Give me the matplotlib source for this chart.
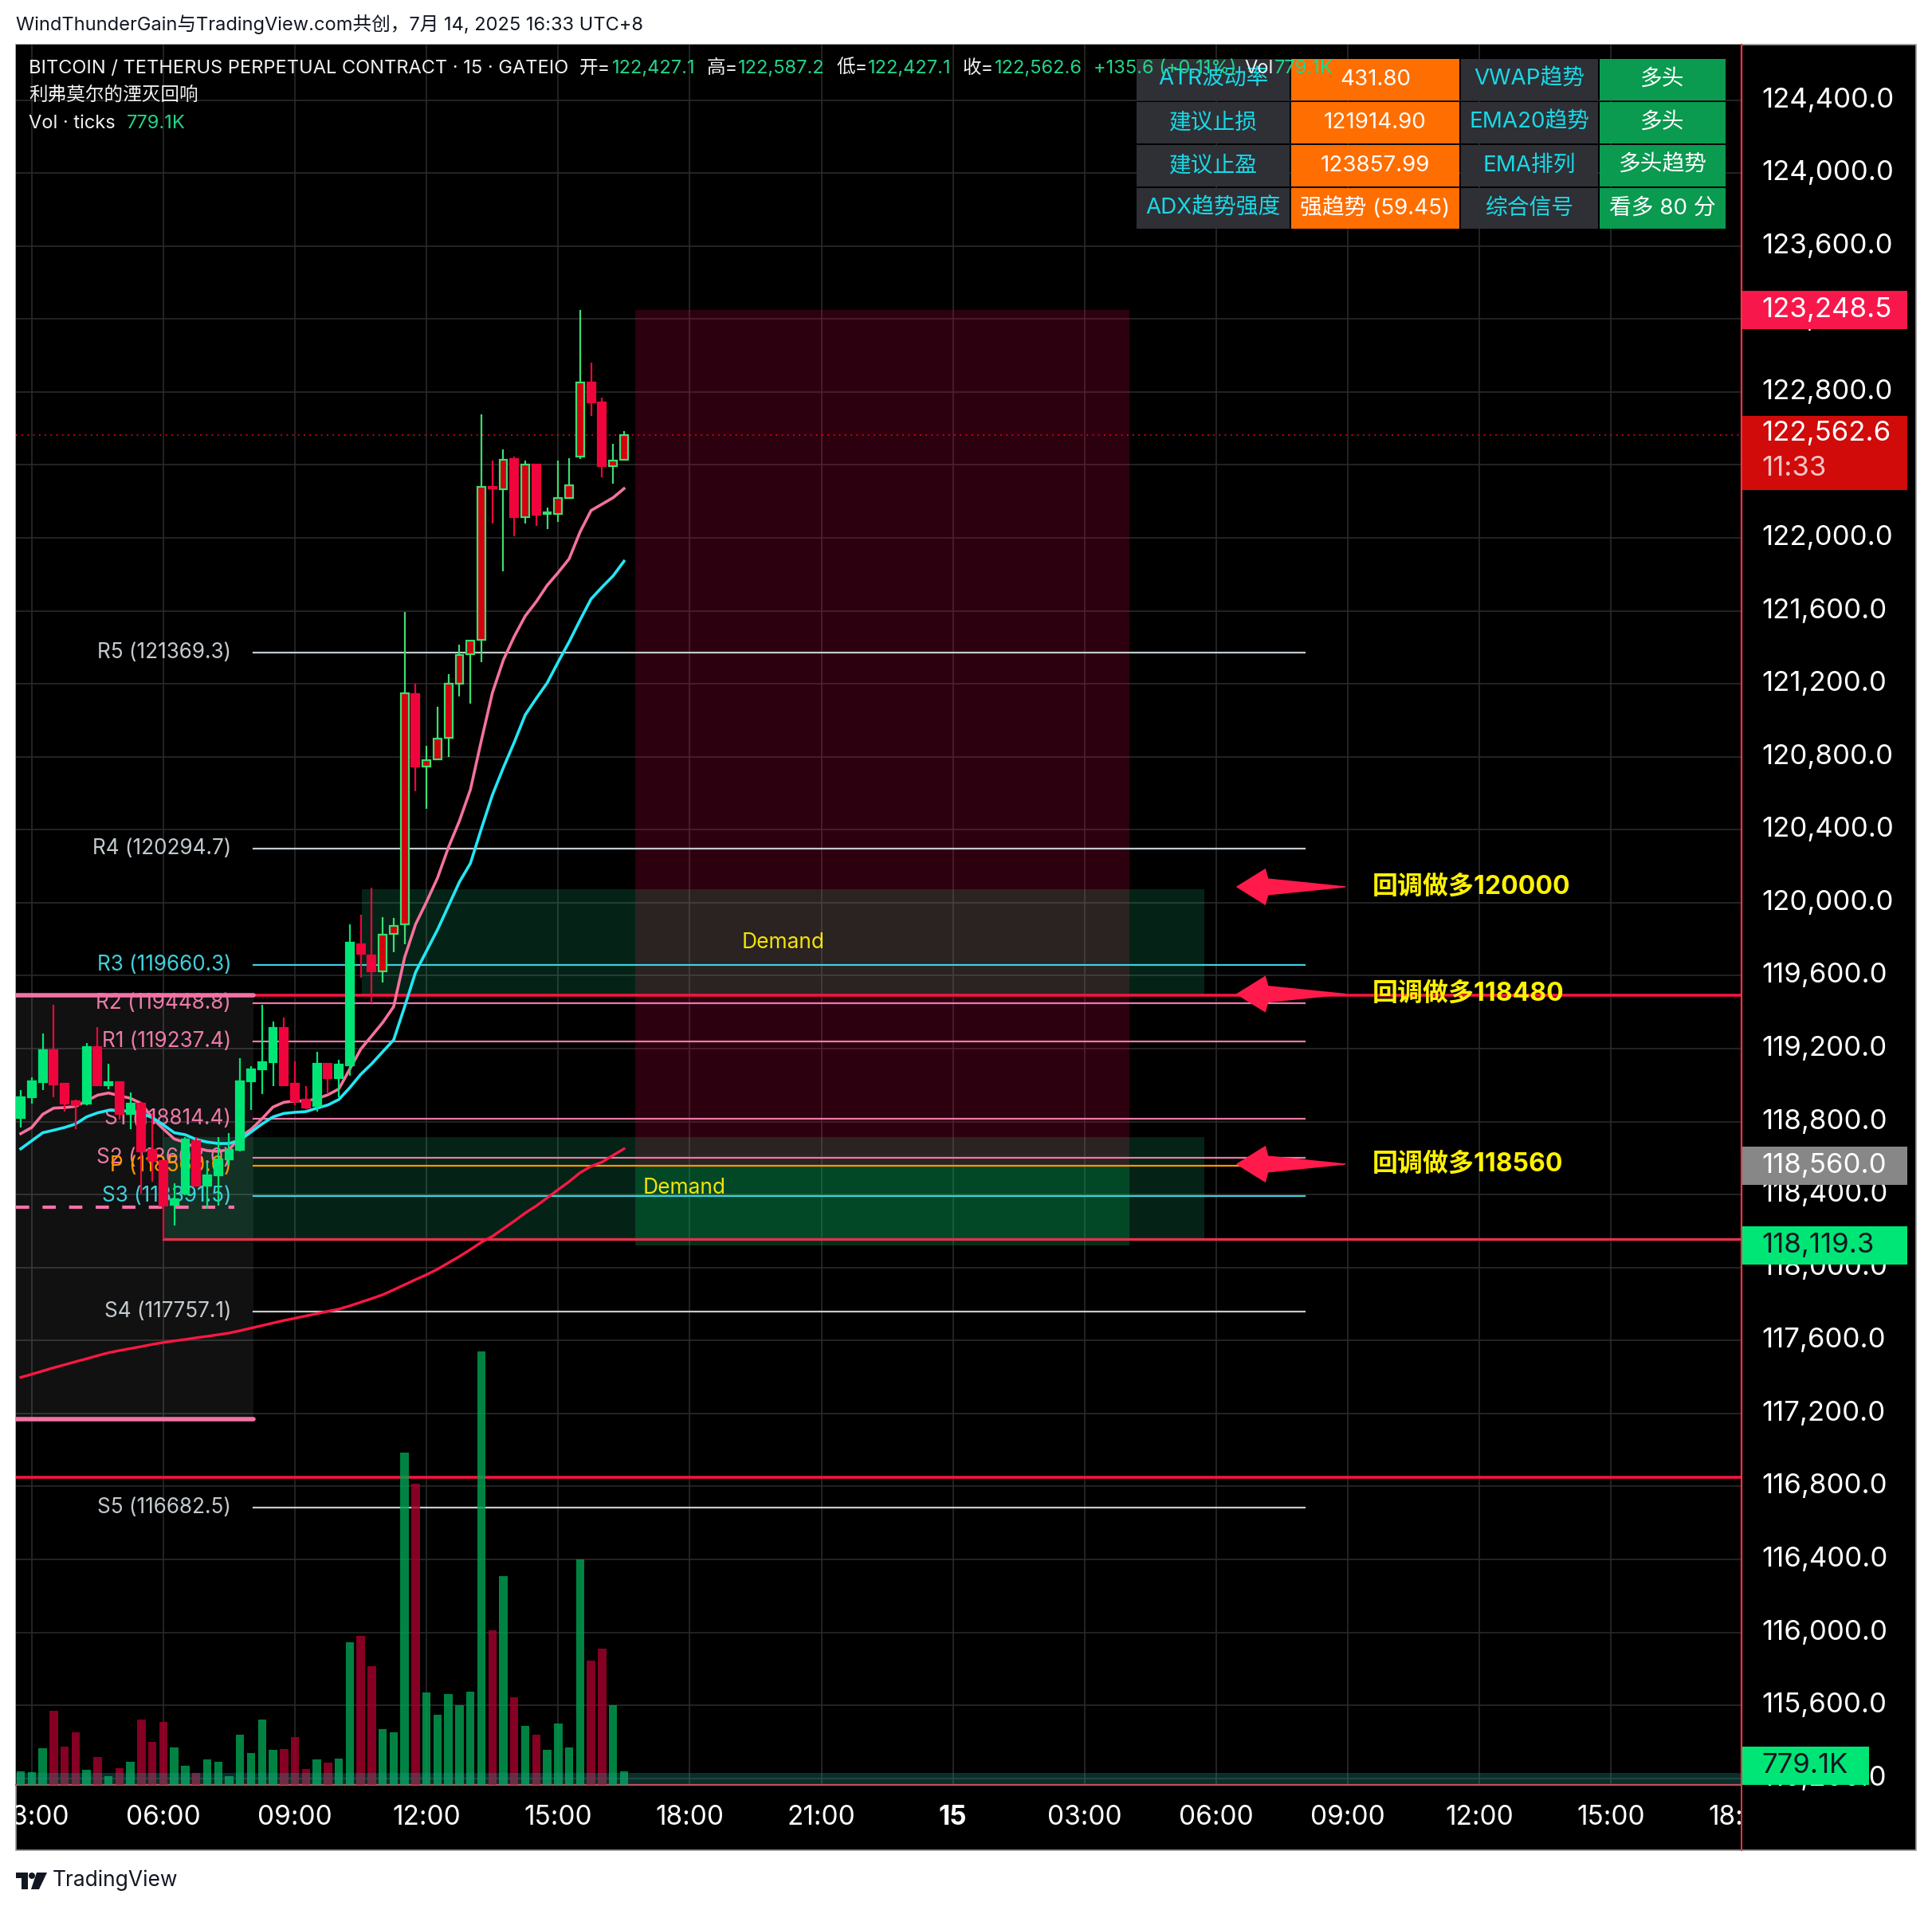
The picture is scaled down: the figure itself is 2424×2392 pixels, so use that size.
import numpy as np
import matplotlib
matplotlib.use("Agg")
import matplotlib.pyplot as plt
from matplotlib.patches import Rectangle, Polygon, Circle

plt.rcParams['font.family'] = ['Inter', 'Noto Sans CJK SC', 'DejaVu Sans']

W, H = 2424, 2392

# 15 min bars, 14 Jul 2025, 02:45 .. 16:30 (bar index 0 = 02:45)
opens = [118822, 118935, 119015, 119190, 119008, 118913, 118899, 119209, 119001, 119015,
         118840, 118899, 118644, 118586, 118345, 118404, 118695, 118447, 118506, 118593,
         118644, 119020, 119088, 119124, 119314, 119008, 118921, 118884, 119117, 119037,
         119110, 119772, 119710, 119622, 119831, 119882, 121145, 120748, 120787, 120904,
         121202, 121364, 121442, 122280, 122267, 122434, 122114, 122403, 122131, 122130,
         122220, 122447, 122850, 122744, 122392, 122427.1]
highs = [118972, 119044, 119285, 119440, 119010, 118921, 119229, 119317, 119117, 119015,
         118961, 118906, 118848, 118586, 118462, 118717, 118717, 118578, 118717, 118739,
         119146, 119103, 119440, 119350, 119372, 119132, 118993, 119183, 119117, 119139,
         119882, 119932, 120081, 119921, 119918, 121592, 121199, 120860, 121073, 121253,
         121413, 121437, 122676, 122423, 122486, 122447, 122423, 122403, 122166, 122423,
         122436, 123248.5, 122962, 122767, 122514, 122587.2]
lows = [118768, 118899, 118972, 118935, 118855, 118760, 118891, 118993, 118979, 118811,
        118760, 118404, 118469, 118156, 118229, 118396, 118447, 118324, 118338, 118557,
        118637, 118862, 118950, 118993, 118993, 118891, 118870, 118855, 118950, 118935,
        119052, 119590, 119448, 119561, 119729, 119772, 120610, 120515, 120787, 120799,
        121129, 121093, 121318, 122080, 121817, 122010, 122080, 122064, 122049, 122088,
        122213, 122431, 122670, 122330, 122295, 122427.1]
closes = [118935, 119022, 119190, 119005, 118899, 118891, 119209, 119001, 119015, 118840,
          118899, 118637, 118586, 118338, 118375, 118702, 118447, 118506, 118593, 118644,
          119022, 119088, 119124, 119314, 119001, 118913, 118877, 119117, 119037, 119113,
          119780, 119718, 119622, 119826, 119874, 121148, 120748, 120781, 120901, 121199,
          121359, 121437, 122278, 122270, 122428, 122114, 122403, 122127, 122138, 122217,
          122288, 122850, 122744, 122392, 122424, 122562.6]
volumes_k = [790, 725, 2120, 4258, 2229, 3026, 870, 1631, 507, 960,
             1341, 3751, 2482, 3624, 2138, 1087, 670, 1468, 1341, 489,
             2899, 1848, 3751, 2011, 2066, 2754, 924, 1468, 1287, 1540,
             8245, 8607, 6867, 3207, 3026, 19153, 17359, 5327, 4041, 5219,
             4584, 5364, 25006, 8897, 12050, 5055, 3388, 2899, 2029, 3533,
             2156, 13028, 7157, 7882, 4584, 779.1]
ema_pink = [118734, 118768, 118840, 118874, 118877, 118884, 118913, 118945, 118957, 118942,
            118928, 118899, 118819, 118760, 118705, 118685, 118656, 118641, 118637, 118647,
            118717, 118757, 118816, 118880, 118906, 118913, 118913, 118925, 118947, 118979,
            119088, 119197, 119270, 119343, 119430, 119700, 119882, 120005, 120136, 120304,
            120449, 120620, 120890, 121150, 121330, 121460, 121572, 121650, 121740, 121810,
            121885, 122033, 122150, 122185, 122220, 122270]
ema_cyan = [118651, 118695, 118739, 118753, 118768, 118787, 118826, 118848, 118862, 118862,
            118855, 118845, 118822, 118782, 118739, 118728, 118702, 118688, 118680, 118680,
            118699, 118743, 118787, 118826, 118845, 118851, 118855, 118874, 118891, 118921,
            118986, 119059, 119117, 119183, 119248, 119430, 119619, 119736, 119852, 119983,
            120114, 120216, 120406, 120590, 120740, 120880, 121030, 121120, 121205, 121320,
            121430, 121550, 121665, 121730, 121791, 121872]
ema_red = [117398, 117415, 117433, 117451, 117467, 117484, 117500, 117517, 117533, 117545,
           117556, 117567, 117579, 117589, 117598, 117606, 117615, 117623, 117632, 117641,
           117654, 117668, 117682, 117696, 117710, 117722, 117735, 117747, 117760, 117772,
           117790, 117810, 117830, 117851, 117878, 117906, 117934, 117961, 117991, 118026,
           118061, 118099, 118139, 118171, 118213, 118255, 118299, 118338, 118382, 118427,
           118471, 118520, 118555, 118578, 118615, 118651]
paint_from = 33   # up bars from here are painted red with green border

pivot_names = ["R5", "R4", "R3", "R2", "R1", "S1", "S2", "P", "S3", "S4", "S5"]
pivot_values = [121369.3, 120294.7, 119660.3, 119448.8, 119237.4, 118814.4,
                118603.0, 118560.0, 118391.5, 117757.1, 116682.5]

time_pos = [1, 13, 25, 37, 49, 61, 73, 85, 97, 109, 121, 133, 145, 157]
time_labels = ["03:00", "06:00", "09:00", "12:00", "15:00", "18:00", "21:00", "15",
               "03:00", "06:00", "09:00", "12:00", "15:00", "18:00"]
price_ticks = list(range(115200, 124401, 400))

arrow_levels = [120087, 119499, 118567]
arrow_texts = ["回调做多120000", "回调做多118480", "回调做多118560"]

table_rows = [["ATR波动率", "431.80", "VWAP趋势", "多头"],
              ["建议止损", "121914.90", "EMA20趋势", "多头"],
              ["建议止盈", "123857.99", "EMA排列", "多头趋势"],
              ["ADX趋势强度", "强趋势 (59.45)", "综合信号", "看多 80 分"]]

entry, stop, target = 118560.0, 118119.3, 123248.5

XMIN, XMAX = -0.44, 156.9
YMIN, YMAX = 115164, 124704

fig = plt.figure(figsize=(W / 100, H / 100), dpi=100)
fig.patch.set_facecolor('white')


def px_rect(x0, y0, x1, y1):
    return [x0 / W, 1 - y1 / H, (x1 - x0) / W, (y1 - y0) / H]


fig.add_artist(Rectangle((20 / W, 1 - 2322 / H), 2384 / W, 2266 / H, transform=fig.transFigure,
                         facecolor='black', edgecolor='#9a9a9a', lw=1.2, zorder=0))

# ---------------- price pane ----------------
ax = fig.add_axes(px_rect(20, 56, 2185, 2240))
ax.set_facecolor('black')
ax.set_xlim(XMIN, XMAX)
ax.set_ylim(YMIN, YMAX)
ax.set_xticks([])
ax.set_yticks([])
for s in ['top', 'left']:
    ax.spines[s].set_visible(False)
for s in ['right', 'bottom']:
    ax.spines[s].set_color('#f23645')
    ax.spines[s].set_linewidth(1.6)

for t in time_pos:
    ax.axvline(t, color='#2a2a2a', lw=1.2, zorder=0.5)
for p in price_ticks:
    ax.axhline(p, color='#2a2a2a', lw=1.2, zorder=0.5)

# previous range box (left)
ax.add_patch(Rectangle((XMIN, 117169), 21.2 - XMIN, 119492 - 117169,
                       facecolor='white', alpha=0.07, lw=0, zorder=1))
ax.plot([XMIN, 21.2], [119492, 119492], color='#f472a8', lw=4, zorder=3.6, solid_capstyle='round')
ax.plot([XMIN, 21.2], [117169, 117169], color='#f472a8', lw=4, zorder=3.6, solid_capstyle='round')
ax.plot([XMIN, 19.5], [118332, 118332], color='#f472a8', lw=3, ls=(0, (4, 4)), zorder=3.6)

# position tool: red (entry..target) and green (stop..entry)
ax.add_patch(Rectangle((56.0, entry), 45.1, target - entry,
                       facecolor='#e6004c', alpha=0.2, lw=0, zorder=1.2))
# demand zones
demand = [(31.1, 107.9, 119492, 120074), (13.1, 107.9, 118156, 118716)]
for x0, x1, b, t in demand:
    ax.add_patch(Rectangle((x0, b), x1 - x0, t - b, facecolor='#1fdb89', alpha=0.16, lw=0, zorder=1.5))
ax.add_patch(Rectangle((56.0, stop), 45.1, entry - stop,
                       facecolor='#00a050', alpha=0.3, lw=0, zorder=1.6))
ax.text(69.5, 119783, "Demand", color='#f2e30a', fontsize=19, ha='center', va='center', zorder=3)
ax.text(60.5, 118436, "Demand", color='#f2e30a', fontsize=19, ha='center', va='center', zorder=3)

# pivots
piv_style = {"R5": '#c3cbd0', "R4": '#c3cbd0', "S4": '#c3cbd0', "S5": '#c3cbd0',
             "R3": '#3fd0dc', "S3": '#3fd0dc',
             "R2": '#ec7aa8', "R1": '#ec7aa8', "S1": '#ec7aa8', "S2": '#ec7aa8',
             "P": '#ff9800'}
for name, val in zip(pivot_names, pivot_values):
    col = piv_style[name]
    ax.plot([21.2, 117.1], [val, val], color=col, lw=1.6, zorder=3)
    ax.text(19.2, val, f"{name} ({val:.1f})", color=col, fontsize=18.8,
            ha='right', va='center', zorder=3)

# horizontal red levels
ax.plot([XMIN, XMAX], [119492, 119492], color='#f7153f', lw=2.6, zorder=3.5)
ax.plot([XMIN, XMAX], [116850, 116850], color='#f7153f', lw=2.6, zorder=3.5)
ax.plot([13, XMAX], [118156, 118156], color='#e8304c', lw=2.4, zorder=3.5)
ax.plot([XMIN, XMAX], [closes[-1], closes[-1]], color='#e0001b', lw=1.3, ls=(0, (1, 3)), zorder=3.5)

x = np.arange(len(closes))
ax.plot(x, ema_red, color='#ff1744', lw=2.4, zorder=4)
ax.plot(x, ema_pink, color='#f4729b', lw=2.6, zorder=4)
ax.plot(x, ema_cyan, color='#22e8f5', lw=2.6, zorder=4)

# candles
for i in range(len(closes)):
    o, h, l, c = opens[i], highs[i], lows[i], closes[i]
    up = c >= o
    if up and i >= paint_from:
        face, edge, wick = '#d4000f', '#3ddc72', '#3ddc72'
    elif up:
        face, edge, wick = '#00e676', '#00e676', '#00e676'
    else:
        face, edge, wick = '#f0043c', '#f0043c', '#f0043c'
    ax.vlines(i, l, h, color=wick, lw=1.6, zorder=5)
    ax.add_patch(Rectangle((i - 0.36, min(o, c)), 0.72, max(abs(c - o), 10),
                           facecolor=face, edgecolor=edge, lw=1.6, zorder=6))

# arrows with notes
for lvl, txt in zip(arrow_levels, arrow_texts):
    verts = [(110.8, lvl), (113.5, lvl + 101), (113.75, lvl + 46), (120.8, lvl + 3),
             (120.8, lvl - 3), (113.75, lvl - 46), (113.5, lvl - 101)]
    ax.add_patch(Polygon(verts, closed=True, facecolor='#ff1a4b', edgecolor='none', zorder=7))
    ax.text(123.2, lvl, txt, color='#fff200', fontsize=23, fontweight='bold',
            ha='left', va='center', zorder=7)

# volume
vax = ax.twinx()
vax.set_ylim(0, 100400)
vax.set_axis_off()
vol_colors = ['#00a152' if c >= o else '#a3002b' for o, c in zip(opens, closes)]
vax.bar(x, volumes_k, width=0.76, color=vol_colors, alpha=0.82, zorder=2)
vax.fill_between([XMIN, XMAX], 0, 690, color='#26a69a', alpha=0.28, lw=0, zorder=3)

# ---------------- price scale ----------------
pax = fig.add_axes(px_rect(2185, 56, 2404, 2240))
pax.set_xlim(0, 1)
pax.set_ylim(YMIN, YMAX)
pax.set_axis_off()
for p in price_ticks:
    pax.text(0.114, p, f"{p:,.1f}", color='white', fontsize=25, ha='left', va='center')
marks = [(target, '#f7174b', 'white'),
         (entry, '#878787', 'white'),
         (stop, '#00e676', '#131722')]
for val, fc, tc in marks:
    pax.add_patch(Rectangle((0, val - 105), 0.95, 210, facecolor=fc, lw=0, zorder=3))
    pax.text(0.114, val, f"{val:,.1f}", color=tc, fontsize=25, ha='left', va='center', zorder=4)
last = closes[-1]
pax.add_patch(Rectangle((0, last - 300), 0.95, 405, facecolor='#d10a0a', lw=0, zorder=3))
pax.text(0.114, last + 10, f"{last:,.1f}", color='white', fontsize=25, ha='left', va='center', zorder=4)
pax.text(0.114, last - 183, "11:33", color='#f2c4c4', fontsize=25, ha='left', va='center', zorder=4)

pvax = fig.add_axes(px_rect(2185, 56, 2404, 2240))
pvax.set_xlim(0, 1)
pvax.set_ylim(0, 100400)
pvax.set_axis_off()
pvax.add_patch(Rectangle((0, 0), 0.73, 2206, facecolor='#00e676', lw=0))
pvax.text(0.114, 1103, f"{volumes_k[-1]}K", color='#131722', fontsize=25, ha='left', va='center')

# ---------------- time scale ----------------
tax = fig.add_axes(px_rect(20, 2240, 2185, 2322))
tax.set_xlim(XMIN, XMAX)
tax.set_ylim(0, 1)
tax.set_axis_off()
for pos, lab in zip(time_pos, time_labels):
    tax.text(pos, 0.5, lab, color='white', fontsize=24, ha='center', va='center',
             fontweight='bold' if lab == "15" else 'normal', clip_on=True)

# ---------------- overlay (pixel coords) ----------------
oax = fig.add_axes([0, 0, 1, 1], zorder=20)
oax.set_xlim(0, W)
oax.set_ylim(H, 0)
oax.set_axis_off()
oax.plot([2185, 2185], [56, 2322], color='#f23645', lw=1.4)

oax.text(20, 31, "WindThunderGain与TradingView.com共创，7月 14, 2025 16:33 UTC+8",
         color='#131722', fontsize=17, ha='left', va='center')

col_x = [(1426, 1618), (1620, 1831), (1833, 2005), (2007, 2165)]
row_y = [(74, 126), (128, 180), (182, 234), (236, 287)]
col_bg = ['#2e3036', '#ff6e00', '#2e3036', '#0a9a50']
col_fg = ['#19d9e6', 'white', '#19d9e6', 'white']
for r, (y0, y1) in enumerate(row_y):
    for c, (x0, x1) in enumerate(col_x):
        oax.add_patch(Rectangle((x0, y0), x1 - x0, y1 - y0, facecolor=col_bg[c], lw=0, zorder=1))
        oax.text((x0 + x1) / 2, (y0 + y1) / 2, table_rows[r][c], color=col_fg[c],
                 fontsize=20, ha='center', va='center', zorder=2)

renderer = fig.canvas.get_renderer()
green = '#22d68a'
white = '#f2f2f2'


def seq_text(x0, y0, parts, size=17):
    xx = x0
    for s, col, gap in parts:
        t = oax.text(xx, y0, s, color=col, fontsize=size, ha='left', va='center', zorder=5)
        xx += t.get_window_extent(renderer=renderer).width + gap
    return xx


seq_text(36, 86, [("BITCOIN / TETHERUS PERPETUAL CONTRACT · 15 · GATEIO", white, 14),
                  ("开=", white, 1), ("122,427.1", green, 14),
                  ("高=", white, 1), ("122,587.2", green, 14),
                  ("低=", white, 1), ("122,427.1", green, 14),
                  ("收=", white, 1), ("122,562.6", green, 14),
                  ("+135.6 (+0.11%)", green, 10),
                  ("Vol", white, 1), ("779.1K", green, 0)])
oax.text(36, 120, "利弗莫尔的湮灭回响", color=white, fontsize=17, ha='left', va='center', zorder=5)
seq_text(36, 155, [("Vol · ticks", white, 14), ("779.1K", green, 0)])

# TradingView logo
oax.add_patch(Rectangle((20, 2350), 15, 7, facecolor='#131722', lw=0))
oax.add_patch(Rectangle((27, 2350), 8, 21, facecolor='#131722', lw=0))
oax.add_patch(Circle((40, 2354), 4, facecolor='#131722', lw=0))
oax.add_patch(Polygon([(46, 2350), (59, 2350), (49, 2371), (39, 2371)], closed=True,
                      facecolor='#131722', lw=0))
oax.text(66, 2360, "TradingView", color='#131722', fontsize=19, ha='left', va='center')

fig.savefig("out.png", dpi=100, facecolor='white')
